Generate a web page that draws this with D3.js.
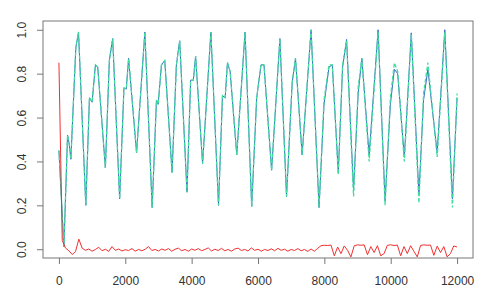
<!DOCTYPE html>
<html>
<head>
<meta charset="utf-8">
<script src="https://cdn.jsdelivr.net/npm/d3@7"></script>
<style>
body { margin: 0; background: #fff; }
text { font-family: "Liberation Sans", Arial, sans-serif; }
</style>
</head>
<body>
<div id="chart"></div>
<script>
// axis ticks
var xTicks = [0, 2000, 4000, 6000, 8000, 10000, 12000];
var yTicks = [0, 0.2, 0.4, 0.6, 0.8, 1.0];

// observed (blue) and predicted (green) series, sampled at the turning points
var seriesX = [0, 150, 260, 310, 360, 510, 590, 810, 920, 1000, 1100, 1170, 1400, 1520, 1620,
    1830, 1960, 2030, 2100, 2340, 2590, 2810, 2940, 2990, 3090, 3190, 3410, 3540, 3640,
    3860, 3970, 4050, 4120, 4330, 4580, 4810, 4930, 5010, 5080, 5160, 5360, 5610,
    5810, 5960, 6090, 6180, 6410, 6660, 6860, 7030, 7130, 7330, 7600,
    7840, 7990, 8140, 8240, 8420, 8550, 8670, 8880, 9020, 9130, 9350, 9620,
    9830, 9990, 10110, 10210, 10410, 10620, 10850, 10990, 11120, 11400, 11630, 11860, 12000];
var observed = [0.45, 0.01, 0.52, 0.48, 0.41, 0.92, 0.99, 0.20, 0.69, 0.67, 0.84, 0.83, 0.37, 0.86, 0.96,
    0.23, 0.735, 0.73, 0.87, 0.44, 0.99, 0.19, 0.68, 0.66, 0.84, 0.86, 0.35, 0.84, 0.95,
    0.26, 0.77, 0.77, 0.88, 0.39, 0.99, 0.20, 0.70, 0.69, 0.85, 0.81, 0.43, 0.99,
    0.195, 0.69, 0.84, 0.84, 0.36, 0.96, 0.24, 0.76, 0.87, 0.43, 1.0,
    0.19, 0.66, 0.83, 0.84, 0.35, 0.83, 0.956, 0.27, 0.71, 0.87, 0.43, 1.0,
    0.22, 0.66, 0.82, 0.80, 0.42, 0.986, 0.25, 0.68, 0.82, 0.44, 1.0, 0.23, 0.69];
var predicted = [0.45, 0.01, 0.52, 0.48, 0.41, 0.92, 0.99, 0.20, 0.69, 0.67, 0.84, 0.83, 0.37, 0.86, 0.96,
    0.23, 0.735, 0.73, 0.87, 0.44, 0.99, 0.19, 0.68, 0.66, 0.84, 0.86, 0.35, 0.84, 0.95,
    0.26, 0.77, 0.77, 0.88, 0.39, 0.99, 0.20, 0.70, 0.69, 0.85, 0.81, 0.43, 0.99,
    0.195, 0.69, 0.84, 0.84, 0.36, 0.96, 0.24, 0.76, 0.87, 0.43, 1.0,
    0.19, 0.68, 0.84, 0.84, 0.34, 0.84, 0.95, 0.24, 0.74, 0.87, 0.40, 0.99,
    0.20, 0.69, 0.85, 0.81, 0.40, 0.98, 0.21, 0.71, 0.85, 0.42, 0.99, 0.19, 0.71];

// error (red), one value every 100 steps from 0 to 12000
var errStep = 100;
var errors = [0.85, 0.04, 0.005, -0.007, -0.024, -0.011, 0.046, 0.005, -0.005, 0.001,
    -0.009, -0.001, 0.009, -0.007, 0.0, -0.01, 0.012, -0.005, 0.001, -0.008,
    -0.002, -0.006, 0.003, -0.009, -0.001, -0.007, 0.0, 0.012, -0.006, -0.001,
    -0.008, 0.001, -0.005, 0.003, -0.009, 0.0, 0.005, -0.007, -0.001, -0.009,
    0.001, -0.005, 0.003, -0.007, -0.001, 0.006, -0.008, 0.0, -0.006, 0.004,
    -0.007, -0.001, -0.009, 0.001, 0.005, -0.006, -0.001, -0.008, 0.006, -0.005,
    0.0, -0.009, -0.001, -0.006, 0.002, -0.007, 0.004, -0.005, 0.0, -0.009,
    -0.001, -0.006, 0.003, -0.007, -0.001, -0.01, 0.001, -0.009, 0.004, 0.016,
    0.018, 0.017, 0.019, -0.03, 0.01, -0.02, 0.015, -0.005, -0.035, 0.016,
    0.02, 0.018, 0.02, -0.025, 0.012, -0.015, 0.016, -0.03, -0.02, 0.018,
    0.02, 0.017, 0.019, -0.03, 0.012, -0.02, 0.016, -0.01, -0.035, 0.017,
    0.02, 0.018, 0.019, -0.028, 0.014, -0.015, 0.012, -0.035, -0.02, 0.015, 0.01];

var width = 499, height = 295;
var plot = { left: 43, right: 473, top: 21, bottom: 258 };

var svg = d3.select("#chart")
    .append("svg")
    .attr("width", width)
    .attr("height", height)
    .style("background", "#fff");

// R style 4% padding around xlim = c(0, 12000), ylim = c(0, 1)
var x = d3.scaleLinear()
    .domain([0 - 480, 12000 + 480])
    .range([plot.left, plot.right]);
var y = d3.scaleLinear()
    .domain([0 - 0.04, 1 + 0.04])
    .range([plot.bottom, plot.top]);

svg.append("clipPath")
    .attr("id", "clip")
    .append("rect")
    .attr("x", plot.left)
    .attr("y", plot.top)
    .attr("width", plot.right - plot.left)
    .attr("height", plot.bottom - plot.top);

var series = seriesX.map(function(d, i) {
    return { x: d, obs: observed[i], pred: predicted[i] };
});
var errData = errors.map(function(d, i) {
    return { x: i * errStep, v: d };
});

var g = svg.append("g").attr("clip-path", "url(#clip)");

g.append("path")
    .datum(series)
    .attr("fill", "none")
    .attr("stroke", "#3068c0")
    .attr("stroke-width", 1)
    .attr("d", d3.line()
        .x(function(d) { return x(d.x); })
        .y(function(d) { return y(d.obs); }));

g.append("path")
    .datum(series)
    .attr("fill", "none")
    .attr("stroke", "#40dca0")
    .attr("stroke-width", 1.3)
    .attr("stroke-dasharray", "4,2")
    .attr("d", d3.line()
        .x(function(d) { return x(d.x); })
        .y(function(d) { return y(d.pred); }));

g.append("path")
    .datum(errData)
    .attr("fill", "none")
    .attr("stroke", "#f03030")
    .attr("stroke-width", 1)
    .attr("d", d3.line()
        .x(function(d) { return x(d.x); })
        .y(function(d) { return y(d.v); }));

// box
svg.append("rect")
    .attr("x", plot.left)
    .attr("y", plot.top)
    .attr("width", plot.right - plot.left)
    .attr("height", plot.bottom - plot.top)
    .attr("fill", "none")
    .attr("stroke", "#777")
    .attr("stroke-width", 1);

// axes
var xAxis = svg.append("g")
    .attr("transform", "translate(0," + plot.bottom + ")")
    .call(d3.axisBottom(x).tickValues(xTicks).tickSize(6).tickPadding(12).tickFormat(d3.format("d")));
var yAxis = svg.append("g")
    .attr("transform", "translate(" + plot.left + ",0)")
    .call(d3.axisLeft(y).tickValues(yTicks).tickSize(6).tickFormat(d3.format(".1f")));

svg.selectAll("path.domain").remove();
svg.selectAll(".tick line").attr("stroke", "#777");
svg.selectAll(".tick text")
    .attr("fill", "#333")
    .style("font-size", "12px")
    .style("font-family", "'Liberation Sans', Arial, sans-serif");

xAxis.selectAll(".tick text").attr("dy", "0.71em").attr("y", 18);

yAxis.selectAll(".tick text")
    .attr("x", null)
    .attr("dy", null)
    .attr("text-anchor", "middle")
    .attr("transform", "translate(-17,0) rotate(-90)");
</script>
</body>
</html>
